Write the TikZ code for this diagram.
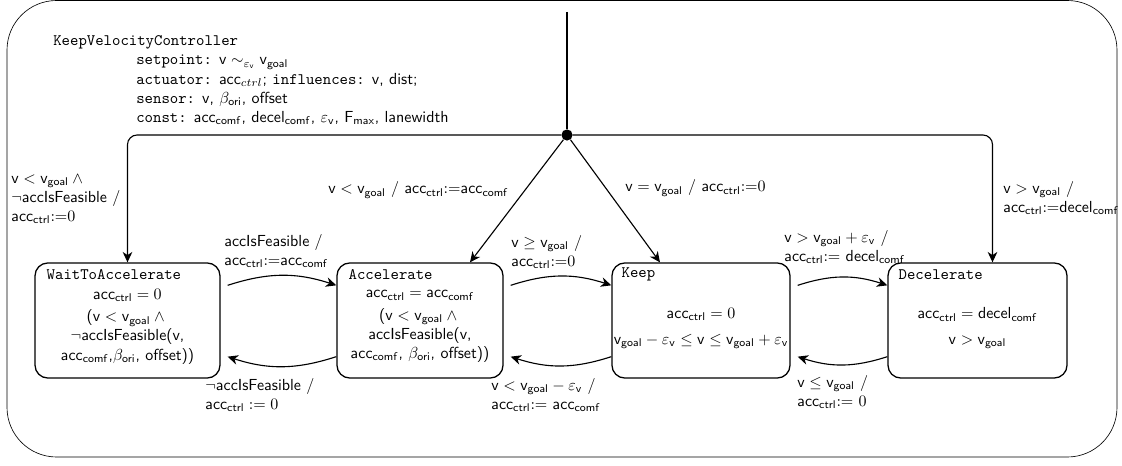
\documentclass[tikz,border=0pt]{standalone}
\usepackage{tikz}
\usetikzlibrary{arrows.meta,calc}

\newcommand{\vel}{\mathsf{v}}
\newcommand{\vgoal}{\mathsf{v}_{\mathsf{goal}}}
\newcommand{\accctrl}{\mathsf{acc}_{\mathsf{ctrl}}}
\newcommand{\acccomf}{\mathsf{acc}_{\mathsf{comf}}}
\newcommand{\decelcomf}{\mathsf{decel}_{\mathsf{comf}}}
\newcommand{\epsv}{\varepsilon_{\mathsf{v}}}
\newcommand{\betaori}{\beta_{\mathsf{ori}}}

\begin{document}
\begin{tikzpicture}[x=0.625pt, y=-0.625pt, every node/.style={font=\sffamily}]
    \tikzset{stbox/.style={draw, thick, rounded corners=8pt, minimum height=71.9pt},
      sttitle/.style={anchor=west, inner sep=0pt, font=\ttfamily},
      stbody/.style={align=center, inner sep=0pt},
      trlabel/.style={anchor=west, align=left, inner sep=0pt},
      trans/.style={->, line width=0.7pt},
      >={Stealth[length=6.5pt, width=6pt, inset=2pt]}}
    \useasboundingbox (0,0) rectangle (1122,466);
    \draw[rounded corners=31pt] (7,0.5) rectangle (1117,457);
    % controller header
    \node[anchor=west, inner sep=0pt, font=\ttfamily] (ctrlname) at (53,42) {KeepVelocityController};
    \node[anchor=north west, align=left, inner sep=0pt] (ctrlspec) at (136,55)
      {\texttt{setpoint:} $\vel \sim_{\epsv} \vgoal$\\
       \texttt{actuator:} acc$_{ctrl}$; \texttt{influences:} v, dist;\\
       \texttt{sensor:} v, $\betaori$, offset\\
       \texttt{const:} $\acccomf$, $\decelcomf$, $\epsv$, $\mathsf{F}_{\mathsf{max}}$, lanewidth};
    % states
    \node[stbox, minimum width=115.6pt] (wait) at (127.5,320.5) {};
    \node[stbox, minimum width=103.8pt] (accel) at (420,320.5) {};
    \node[stbox, minimum width=111.3pt] (keep) at (701,320.5) {};
    \node[stbox, minimum width=111.9pt] (decel) at (977.5,320.5) {};
    \node[sttitle] (waitname) at ($(wait.north west)+(12,12)$) {WaitToAccelerate};
    \node[sttitle] (accelname) at ($(accel.north west)+(12,12)$) {Accelerate};
    \node[sttitle] (keepname) at ($(keep.north west)+(10,12)$) {Keep};
    \node[sttitle] (decelname) at ($(decel.north west)+(11,12)$) {Decelerate};
    \node[stbody] (waitbody) at ($(wait.center)+(0,6)$)
      {$\accctrl = 0$\\[2pt] ($\vel < \vgoal \wedge{}$\\ $\neg$accIsFeasible(v,\\ $\acccomf$,$\betaori$, offset))};
    \node[stbody] (accelbody) at ($(accel.center)+(0,6)$)
      {$\accctrl = \acccomf$\\[2pt] ($\vel < \vgoal \wedge{}$\\ accIsFeasible(v,\\ $\acccomf$, $\betaori$, offset))};
    \node[stbody] (keepbody) at ($(keep.center)+(0,8)$)
      {$\accctrl = 0$\\[4pt] $\vgoal - \epsv \leq \vel \leq \vgoal + \epsv$};
    \node[stbody] (decelbody) at ($(decel.center)+(0,8)$)
      {$\accctrl = \decelcomf$\\[4pt] $\vel > \vgoal$};
    % initial junction
    \coordinate (init) at (567,12);
    \node[circle, fill, inner sep=0pt, minimum size=7pt] (junc) at (567,135) {};
    \draw[line width=0.7pt] (init) -- (junc);
    \draw[trans, rounded corners=6pt] (junc) -| (wait.north);
    \draw[trans, rounded corners=6pt] (junc) -| ($(decel.north)+(15,0)$);
    \draw[trans] (junc) -- ($(accel.north)+(50,0)$);
    \draw[trans] (junc) -- ($(keep.north)+(-41,0)$);
    \node[trlabel] (initwait) at (11,199) {$\vel < \vgoal \wedge{}$\\ $\neg$accIsFeasible /\\ $\accctrl{:=}0$};
    \node[trlabel] (initaccel) at (328,190) {$\vel < \vgoal$ / $\accctrl{:=}\acccomf$};
    \node[trlabel] (initkeep) at (625,188) {$\vel = \vgoal$ / $\accctrl{:=}0$};
    \node[trlabel] (initdecel) at (1003,198) {$\vel > \vgoal$ /\\ $\accctrl{:=}\decelcomf$};
    % transitions between states
    \draw[trans] ($(wait.north east)+(7,23)$) to[bend left=18] ($(accel.north west)+(0,23)$);
    \draw[trans] ($(accel.south west)+(0,-22)$) to[bend left=18] ($(wait.south east)+(7,-22)$);
    \draw[trans] ($(accel.north east)+(7,23)$) to[bend left=18] ($(keep.north west)+(0,23)$);
    \draw[trans] ($(keep.south west)+(0,-22)$) to[bend left=18] ($(accel.south east)+(7,-22)$);
    \draw[trans] ($(keep.north east)+(7,23)$) to[bend left=18] ($(decel.north west)+(0,23)$);
    \draw[trans] ($(decel.south west)+(0,-22)$) to[bend left=18] ($(keep.south east)+(7,-22)$);
    \node[trlabel] (waitaccel) at (224,251) {accIsFeasible /\\ $\accctrl{:=}\acccomf$};
    \node[trlabel] (accelwait) at (205,395) {$\neg$accIsFeasible /\\ $\accctrl := 0$};
    \node[trlabel] (accelkeep) at (511,252) {$\vel \geq \vgoal$ /\\ $\accctrl{:=}0$};
    \node[trlabel] (keepaccel) at (491,395) {$\vel < \vgoal - \epsv$ /\\ $\accctrl{:=}\ \acccomf$};
    \node[trlabel] (keepdecel) at (784,247) {$\vel > \vgoal + \epsv$ /\\ $\accctrl{:=}\ \decelcomf$};
    \node[trlabel] (decelkeep) at (797,392) {$\vel \leq \vgoal$ /\\ $\accctrl{:=}\ 0$};
\end{tikzpicture}
\end{document}
